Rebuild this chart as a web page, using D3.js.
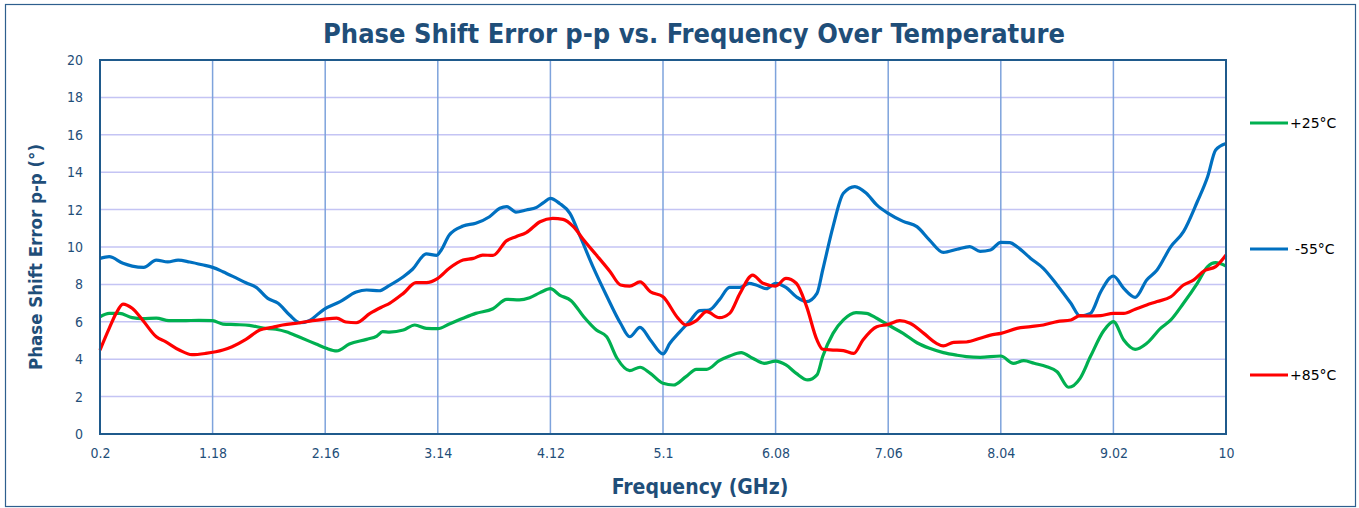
<!DOCTYPE html>
<html>
<head>
<meta charset="utf-8">
<script src="https://cdn.jsdelivr.net/npm/d3@7"></script>
<style>
  body { margin: 0; background: #fff; }
  svg text { font-family: "Liberation Sans Narrow", "DejaVu Sans Condensed", "Open Sans", sans-serif; }
</style>
</head>
<body>
<svg id="chart" width="1359" height="508"></svg>
<script>
// Tick labels
var xTicks = [0.2, 1.18, 2.16, 3.14, 4.12, 5.1, 6.08, 7.06, 8.04, 9.02, 10];
var yTicks = [0, 2, 4, 6, 8, 10, 12, 14, 16, 18, 20];

// -55°C
var freqCold = [0.2, 0.28, 0.4, 0.48, 0.58, 0.69, 0.79, 0.88, 0.98, 1.09, 1.18, 1.27, 1.38, 1.47, 1.56, 1.66, 1.75, 1.85, 1.94, 2.02, 2.15, 2.29, 2.43, 2.52, 2.63, 2.72,
  2.84, 2.92, 3.04, 3.13, 3.17, 3.24, 3.36, 3.47, 3.59, 3.68, 3.74, 3.82, 3.91, 4.0, 4.06, 4.12, 4.2, 4.29, 4.38, 4.49, 4.61, 4.73, 4.81, 4.9, 4.99, 5.1, 5.16,
  5.24, 5.33, 5.42, 5.5, 5.59, 5.68, 5.77, 5.85, 5.91, 6.0, 6.08, 6.17, 6.26, 6.35, 6.44, 6.49, 6.58, 6.67, 6.77, 6.87, 6.96, 7.06, 7.19, 7.31, 7.42, 7.54, 7.66, 7.77,
  7.86, 7.95, 8.04, 8.12, 8.18, 8.3, 8.41, 8.53, 8.65, 8.73, 8.82, 8.91, 9.02, 9.11, 9.21, 9.31, 9.4, 9.52, 9.63, 9.75, 9.84, 9.91, 10];
var errCold = [9.39, 9.48, 9.13, 8.98, 8.91, 9.3, 9.2, 9.3, 9.2, 9.05, 8.91, 8.68, 8.36, 8.09, 7.84, 7.25, 6.99, 6.36, 5.95, 6.06, 6.67, 7.08, 7.59, 7.7, 7.66, 7.95,
  8.41, 8.81, 9.63, 9.55, 9.84, 10.64, 11.12, 11.27, 11.62, 12.07, 12.16, 11.87, 11.98, 12.12, 12.37, 12.6, 12.33, 11.8, 10.55, 8.95, 7.38, 5.92, 5.2, 5.7, 5.03, 4.28, 4.85,
  5.42, 6.01, 6.6, 6.63, 7.17, 7.84, 7.84, 8.06, 7.97, 7.77, 8.06, 7.84, 7.34, 7.08, 7.52, 8.77, 11.09, 12.87, 13.23, 12.87, 12.25, 11.8, 11.37, 11.09, 10.37, 9.71, 9.88, 10.02,
  9.77, 9.84, 10.25, 10.23, 10.02, 9.39, 8.86, 7.97, 6.99, 6.31, 6.45, 7.61, 8.45, 7.79, 7.31, 8.24, 8.77, 10.02, 10.82, 12.42, 13.76, 15.19, 15.54];

// +25°C
var freqRoom = [0.2, 0.28, 0.37, 0.48, 0.57, 0.69, 0.8, 0.92, 1.06, 1.18, 1.27, 1.38, 1.5, 1.62, 1.73, 1.82, 1.94, 2.08, 2.17, 2.26, 2.37, 2.52, 2.61, 2.66, 2.72,
  2.84, 2.94, 3.04, 3.14, 3.24, 3.36, 3.47, 3.62, 3.74, 3.85, 3.94, 4.03, 4.12, 4.2, 4.3, 4.41, 4.52, 4.61, 4.7, 4.81, 4.9, 4.99, 5.1, 5.19,
  5.3, 5.39, 5.48, 5.59, 5.68, 5.78, 5.88, 5.98, 6.08, 6.17, 6.26, 6.36, 6.44, 6.49, 6.58, 6.67, 6.78, 6.87, 6.96, 7.06, 7.19, 7.31, 7.42, 7.54, 7.66,
  7.74, 7.86, 8.04, 8.15, 8.24, 8.33, 8.44, 8.53, 8.63, 8.73, 8.82, 8.94, 9.02, 9.11, 9.21, 9.31, 9.43, 9.52, 9.63, 9.75, 9.84, 9.91, 10];
var errRoom = [6.27, 6.45, 6.45, 6.22, 6.17, 6.2, 6.06, 6.06, 6.08, 6.06, 5.88, 5.85, 5.81, 5.67, 5.6, 5.47, 5.17, 4.81, 4.58, 4.44, 4.81, 5.06, 5.24, 5.47, 5.45,
  5.56, 5.83, 5.65, 5.63, 5.88, 6.19, 6.45, 6.7, 7.2, 7.17, 7.29, 7.56, 7.77, 7.43, 7.13, 6.27, 5.56, 5.2, 4.05, 3.39, 3.57, 3.24, 2.71, 2.62,
  3.07, 3.46, 3.46, 3.92, 4.17, 4.35, 4.05, 3.78, 3.9, 3.69, 3.24, 2.89, 3.16, 4.14, 5.38, 6.1, 6.49, 6.45, 6.19, 5.83, 5.38, 4.88, 4.58, 4.35, 4.21,
  4.14, 4.1, 4.17, 3.78, 3.92, 3.78, 3.6, 3.33, 2.5, 2.98, 4.14, 5.56, 6.01, 5.03, 4.53, 4.85, 5.65, 6.1, 6.99, 8.06, 8.95, 9.16, 8.98];

// +85°C
var freqHot = [0.2, 0.28, 0.34, 0.4, 0.48, 0.57, 0.69, 0.77, 0.89, 1.0, 1.12, 1.27, 1.35, 1.47, 1.59, 1.7, 1.79, 1.94, 2.05, 2.14, 2.26, 2.34, 2.43, 2.55, 2.66, 2.72,
  2.84, 2.95, 3.04, 3.14, 3.24, 3.36, 3.45, 3.53, 3.62, 3.74, 3.82, 3.91, 4.03, 4.14, 4.23, 4.32, 4.41, 4.52, 4.64, 4.73, 4.81, 4.9, 4.99, 5.1, 5.23,
  5.3, 5.39, 5.48, 5.59, 5.68, 5.77, 5.88, 5.97, 6.08, 6.17, 6.26, 6.35, 6.44, 6.49, 6.58, 6.67, 6.76, 6.84, 6.96, 7.06, 7.16, 7.25, 7.37, 7.48, 7.54, 7.63,
  7.74, 7.86, 7.95, 8.04, 8.18, 8.3, 8.41, 8.53, 8.65, 8.73, 8.82, 8.91, 9.02, 9.11, 9.21, 9.31, 9.4, 9.52, 9.63, 9.72, 9.81, 9.91, 10];
var errHot = [4.49, 5.65, 6.45, 6.95, 6.72, 6.1, 5.2, 4.94, 4.49, 4.24, 4.31, 4.49, 4.67, 5.06, 5.56, 5.7, 5.83, 5.95, 6.06, 6.13, 6.2, 5.99, 5.95, 6.45, 6.81, 6.99,
  7.52, 8.09, 8.09, 8.32, 8.86, 9.3, 9.39, 9.57, 9.55, 10.34, 10.55, 10.77, 11.35, 11.53, 11.48, 11.09, 10.37, 9.57, 8.68, 7.97, 7.91, 8.13, 7.61, 7.34, 6.2,
  5.83, 6.06, 6.54, 6.22, 6.45, 7.52, 8.5, 8.06, 7.91, 8.32, 8.06, 6.81, 5.03, 4.53, 4.49, 4.46, 4.31, 5.03, 5.74, 5.86, 6.06, 5.92, 5.38, 4.85, 4.71, 4.9,
  4.92, 5.12, 5.29, 5.38, 5.65, 5.74, 5.83, 6.01, 6.1, 6.33, 6.31, 6.33, 6.45, 6.45, 6.67, 6.9, 7.08, 7.34, 7.97, 8.24, 8.73, 8.95, 9.57];

var seriesNames = ["+25°C", "-55°C", "+85°C"];
var seriesColors = ["#00b050", "#0070c0", "#ff0000"];

var textColor = "#1f4e79";
var margin = {top: 60, right: 133, bottom: 74, left: 100},
  width = 1359 - margin.left - margin.right,
  height = 508 - margin.top - margin.bottom;

var svg = d3.select("#chart");

// outer frame
svg.append("rect")
  .attr("x", 5.5).attr("y", 4.5)
  .attr("width", 1350).attr("height", 502)
  .attr("fill", "none")
  .attr("stroke", "#2e5f8e")
  .attr("stroke-width", 1.2);

svg.append("text")
  .attr("x", 694).attr("y", 43)
  .attr("text-anchor", "middle")
  .style("font-size", "27px")
  .style("font-weight", "bold")
  .attr("fill", textColor)
  .text("Phase Shift Error p-p vs. Frequency Over Temperature");

var g = svg.append("g")
  .attr("transform", "translate(" + margin.left + "," + margin.top + ")");

var x = d3.scaleLinear().domain([0.2, 10]).range([0, width]);
var y = d3.scaleLinear().domain([0, 20]).range([height, 0]);

// horizontal grid
g.selectAll(".hgrid")
  .data(yTicks.slice(1))
  .enter().append("line")
  .attr("x1", 0).attr("x2", width)
  .attr("y1", function (d) { return y(d); })
  .attr("y2", function (d) { return y(d); })
  .attr("stroke", "#c4c4f4")
  .attr("stroke-width", 1.5);

// vertical grid
g.selectAll(".vgrid")
  .data(xTicks.slice(1, -1))
  .enter().append("line")
  .attr("y1", 0).attr("y2", height)
  .attr("x1", function (d) { return x(d); })
  .attr("x2", function (d) { return x(d); })
  .attr("stroke", "#7ea3dc")
  .attr("stroke-width", 1.5);

// axes (labels only)
var xAxis = g.append("g")
  .attr("transform", "translate(0," + height + ")")
  .call(d3.axisBottom(x).tickValues(xTicks).tickSize(0).tickPadding(14)
    .tickFormat(function (d) { return String(d); }));
var yAxis = g.append("g")
  .call(d3.axisLeft(y).tickValues(yTicks).tickSize(0).tickPadding(17));
[xAxis, yAxis].forEach(function (a) {
  a.select(".domain").remove();
  a.selectAll("text")
    .attr("fill", textColor)
    .style("font-size", "14px")
    .style("font-family", "'Liberation Sans Narrow', 'DejaVu Sans Condensed', 'Open Sans', sans-serif");
});

// lines
var line = d3.line()
  .x(function (d) { return x(d[0]); })
  .y(function (d) { return y(d[1]); })
  .curve(d3.curveMonotoneX);

var allSeries = [
  d3.zip(freqRoom, errRoom),
  d3.zip(freqCold, errCold),
  d3.zip(freqHot, errHot)
];

g.selectAll(".series")
  .data(allSeries)
  .enter().append("path")
  .attr("d", line)
  .attr("fill", "none")
  .attr("stroke", function (d, i) { return seriesColors[i]; })
  .attr("stroke-width", 3.2)
  .attr("stroke-linejoin", "round");

// plot frame
g.append("rect")
  .attr("width", width).attr("height", height)
  .attr("fill", "none")
  .attr("stroke", "#1f5a8c")
  .attr("stroke-width", 2);

// axis titles
svg.append("text")
  .attr("x", 700).attr("y", 494)
  .attr("text-anchor", "middle")
  .style("font-size", "21px")
  .style("font-weight", "bold")
  .attr("fill", textColor)
  .text("Frequency (GHz)");

svg.append("text")
  .attr("transform", "translate(42,257) rotate(-90)")
  .attr("text-anchor", "middle")
  .style("font-size", "18.5px")
  .style("font-weight", "bold")
  .attr("fill", textColor)
  .text("Phase Shift Error p-p (°)");

// legend
var legendY = [123, 249, 375];
var legend = svg.selectAll(".legend")
  .data(seriesNames)
  .enter().append("g")
  .attr("transform", function (d, i) { return "translate(1250," + legendY[i] + ")"; });
legend.append("line")
  .attr("x1", 0).attr("x2", 38)
  .attr("stroke", function (d, i) { return seriesColors[i]; })
  .attr("stroke-width", 3);
legend.append("text")
  .attr("x", function (d) { return d[0] === "-" ? 45 : 40; })
  .attr("y", 5)
  .style("font-size", "14px")
  .style("font-family", "'DejaVu Sans', sans-serif")
  .attr("fill", "#000")
  .text(function (d) { return d; });
</script>
</body>
</html>
